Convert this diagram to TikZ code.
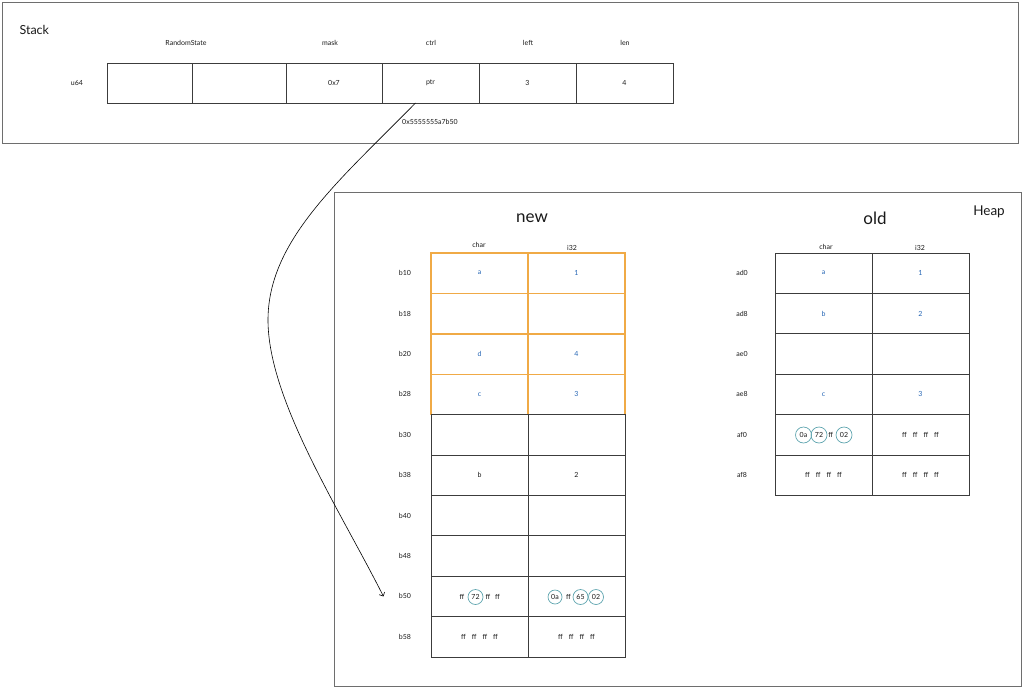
\documentclass[tikz,border=0pt]{standalone}
\usepackage{fontspec}
\setmainfont{Lato}
\usepackage{xcolor}
\usetikzlibrary{arrows.meta, positioning}

\definecolor{gridgray}{RGB}{60,60,60}
\definecolor{boxgray}{RGB}{110,110,110}
\definecolor{valblue}{RGB}{35,100,180}
\definecolor{roworange}{RGB}{240,170,70}
\definecolor{byteteal}{RGB}{95,165,175}
\newcommand{\cellfont}{\fontsize{7}{8}\selectfont}
\newcommand{\headfont}{\fontsize{7}{8}\selectfont}

\begin{document}
\begin{tikzpicture}[x=1pt, y=-1pt, font=\cellfont, text=black!90,
  cell/.style={draw=gridgray, line width=1pt, minimum width=97pt, minimum height=40.4pt, inner sep=0pt, outer sep=0pt},
  stackcell/.style={cell, minimum height=40pt},
  newcell/.style={cell, draw=roworange, line width=1.4pt},
  val/.style={text=valblue},
  byte/.style={circle, draw=byteteal, line width=0.7pt, minimum size=16pt, inner sep=0pt},
  title/.style={font=\fontsize{17}{20}\selectfont}]
  \useasboundingbox (0,0) rectangle (1024,688);

  % stack
  \draw[boxgray, line width=1pt] (2,2) rectangle (1018,143);
  \node[font=\fontsize{12.5}{14}\selectfont, anchor=west] (stacklbl) at (16,30) {Stack};
  \node[stackcell, minimum width=85pt] (rs1) at (149.5,83) {};
  \node[stackcell, minimum width=94pt, right=0pt of rs1] (rs2) {};
  \node[stackcell, minimum width=96pt, right=0pt of rs2] (mask) {0x7};
  \node[stackcell, right=0pt of mask] (ctrl) {ptr};
  \node[stackcell, right=0pt of ctrl] (left) {3};
  \node[stackcell, right=0pt of left] (len) {4};
  \node[font=\headfont] (rslbl) at (186,43) {RandomState};
  \node[font=\headfont] (masklbl) at (330,43) {mask};
  \node[font=\headfont] (ctrllbl) at (431,43) {ctrl};
  \node[font=\headfont] (leftlbl) at (528,43) {left};
  \node[font=\headfont] (lenlbl) at (625,43) {len};
  \node (u64) at (77,83) {u64};
  \node (addrlbl) at (430,122) {0x5555555a7b50};

  % heap
  \draw[boxgray, line width=1pt] (334,192) rectangle (1021,686);
  \node[font=\fontsize{13.5}{15}\selectfont] (heaplbl) at (989,212) {Heap};
  \node[title] (newlbl) at (532,218) {new};
  \node[title] (oldlbl) at (875,218) {old};

  % new table
  \node[font=\headfont] (nchar) at (479,245) {char};
  \node[font=\headfont] (ni32) at (572,248) {i32};
  \foreach \a [count=\k] in {b10,b18,b20,b28,b30,b38,b40,b48,b50,b58}
    \node (\a) at (405,232.8+40.4*\k) {\a};
  \node[newcell, val] (n1c) at (479.5,273.2) {a};
  \node[newcell, val, right=0pt of n1c] (n1i) {1};
  \node[newcell, below=0pt of n1c] (n2c) {};
  \node[newcell, right=0pt of n2c] (n2i) {};
  \node[newcell, val, below=0pt of n2c] (n3c) {d};
  \node[newcell, val, right=0pt of n3c] (n3i) {4};
  \node[newcell, val, below=0pt of n3c] (n4c) {c};
  \node[newcell, val, right=0pt of n4c] (n4i) {3};
  \node[cell, below=0pt of n4c] (n5c) {};
  \node[cell, right=0pt of n5c] (n5i) {};
  \node[cell, below=0pt of n5c] (n6c) {b};
  \node[cell, right=0pt of n6c] (n6i) {2};
  \node[cell, below=0pt of n6c] (n7c) {};
  \node[cell, right=0pt of n7c] (n7i) {};
  \node[cell, below=0pt of n7c] (n8c) {};
  \node[cell, right=0pt of n8c] (n8i) {};
  \node[cell, below=0pt of n8c] (n9c) {};
  \node[cell, right=0pt of n9c] (n9i) {};
  \node[cell, below=0pt of n9c] (n10c) {ff\hspace{6pt}ff\hspace{6pt}ff\hspace{6pt}ff};
  \node[cell, right=0pt of n10c] (n10i) {ff\hspace{6pt}ff\hspace{6pt}ff\hspace{6pt}ff};
  \node (n9f1) at (462,597) {ff};
  \node[byte, minimum size=15pt] (n9b1) at (475.5,597) {72};
  \node (n9f2) at (488,597) {ff};
  \node (n9f3) at (497.5,597) {ff};
  \node[byte, minimum size=14pt] (n9b2) at (555,597) {0a};
  \node (n9f4) at (568.5,597) {ff};
  \node[byte, minimum size=15pt] (n9b3) at (580.5,597) {65};
  \node[byte, minimum size=15pt] (n9b4) at (596,597) {02};

  % old table
  \node[font=\headfont] (ochar) at (826,247) {char};
  \node[font=\headfont] (oi32) at (920,248) {i32};
  \foreach \a [count=\k] in {ad0,ad8,ae0,ae8,af0,af8}
    \node (\a) at (742,232.8+40.4*\k) {\a};
  \node[cell, val] (o1c) at (823.5,273.2) {a};
  \node[cell, val, right=0pt of o1c] (o1i) {1};
  \node[cell, val, below=0pt of o1c] (o2c) {b};
  \node[cell, val, right=0pt of o2c] (o2i) {2};
  \node[cell, below=0pt of o2c] (o3c) {};
  \node[cell, right=0pt of o3c] (o3i) {};
  \node[cell, val, below=0pt of o3c] (o4c) {c};
  \node[cell, val, right=0pt of o4c] (o4i) {3};
  \node[cell, below=0pt of o4c] (o5c) {};
  \node[cell, right=0pt of o5c] (o5i) {ff\hspace{6pt}ff\hspace{6pt}ff\hspace{6pt}ff};
  \node[cell, below=0pt of o5c] (o6c) {ff\hspace{6pt}ff\hspace{6pt}ff\hspace{6pt}ff};
  \node[cell, right=0pt of o6c] (o6i) {ff\hspace{6pt}ff\hspace{6pt}ff\hspace{6pt}ff};
  \node[byte] (o5b1) at (803.5,435) {0a};
  \node[byte] (o5b2) at (819,435) {72};
  \node (o5f1) at (830.7,435) {ff};
  \node[byte] (o5b3) at (844,435) {02};

  % pointer
  \draw[-{Straight Barb[length=3pt]}, line width=0.6pt] ([xshift=-15pt]ctrl.south)
    .. controls (340,180) and (268,240) .. (268,320)
    .. controls (268,400) and (340,510) .. ([xshift=-12pt]b50.west);
\end{tikzpicture}
\end{document}
